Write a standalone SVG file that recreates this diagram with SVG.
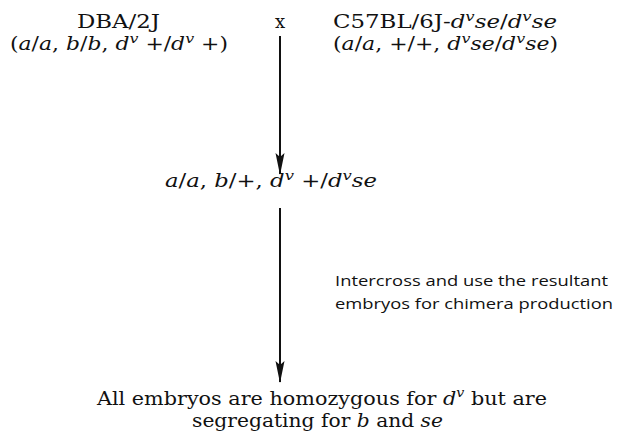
<svg xmlns="http://www.w3.org/2000/svg" width="620" height="432" viewBox="0 0 620 432">
<style>
.s{font-family:"DejaVu Serif","Liberation Serif",serif;fill:#111;}
.t{font-size:18px;}
.b{font-size:19px;}
.i{font-style:italic;}
.sup{font-size:13px;font-style:italic;}
.n{font-family:"Open Sans","DejaVu Sans",sans-serif;font-size:15px;fill:#111;}
.c{stroke:#111;stroke-width:2;fill:none;}
</style>
<defs>
<marker id="ah" markerUnits="userSpaceOnUse" markerWidth="22" markerHeight="10" refX="21" refY="5" orient="auto" viewBox="0 0 22 10">
<path d="M0,0.5 L4,5 L0,9.5 L22,5 Z" fill="#111"/>
</marker>
</defs>
<rect width="620" height="432" fill="#fff"/>
<g id="connectors">
<line class="c" x1="280" y1="36" x2="280" y2="174" marker-end="url(#ah)"/>
<line class="c" x1="280" y1="208" x2="280" y2="382" marker-end="url(#ah)"/>
</g>
<g id="parent-dba">
<text class="s t" x="77" y="28" textLength="83" lengthAdjust="spacingAndGlyphs">DBA/2J</text>
<text class="s t" x="10" y="50" textLength="218" lengthAdjust="spacingAndGlyphs">(<tspan class="i">a</tspan>/<tspan class="i">a</tspan>, <tspan class="i">b</tspan>/<tspan class="i">b</tspan>, <tspan class="i">d</tspan><tspan class="sup" dy="-7">v</tspan><tspan dy="7"> +/</tspan><tspan class="i">d</tspan><tspan class="sup" dy="-7">v</tspan><tspan dy="7"> +)</tspan></text>
</g>
<g id="cross">
<text class="s t" x="280" y="28" text-anchor="middle">x</text>
</g>
<g id="parent-c57">
<text class="s t" x="333" y="28" textLength="224" lengthAdjust="spacingAndGlyphs">C57BL/6J-<tspan class="i">d</tspan><tspan class="sup" dy="-7">v</tspan><tspan class="i" dy="7">se</tspan>/<tspan class="i">d</tspan><tspan class="sup" dy="-7">v</tspan><tspan class="i" dy="7">se</tspan></text>
<text class="s t" x="333" y="50" textLength="225" lengthAdjust="spacingAndGlyphs">(<tspan class="i">a</tspan>/<tspan class="i">a</tspan>, +/+, <tspan class="i">d</tspan><tspan class="sup" dy="-7">v</tspan><tspan class="i" dy="7">se</tspan>/<tspan class="i">d</tspan><tspan class="sup" dy="-7">v</tspan><tspan class="i" dy="7">se</tspan>)</text>
</g>
<g id="f1">
<text class="s t" x="165" y="187" textLength="212" lengthAdjust="spacingAndGlyphs"><tspan class="i">a</tspan>/<tspan class="i">a</tspan>, <tspan class="i">b</tspan>/+, <tspan class="i">d</tspan><tspan class="sup" dy="-7">v</tspan><tspan dy="7"> +/</tspan><tspan class="i">d</tspan><tspan class="sup" dy="-7">v</tspan><tspan class="i" dy="7">se</tspan></text>
</g>
<g id="note">
<text class="n" x="335" y="286" textLength="273" lengthAdjust="spacingAndGlyphs">Intercross and use the resultant</text>
<text class="n" x="335" y="309" textLength="278" lengthAdjust="spacingAndGlyphs">embryos for chimera production</text>
</g>
<g id="result">
<text class="s b" x="97" y="405" textLength="450" lengthAdjust="spacingAndGlyphs">All embryos are homozygous for <tspan class="i">d</tspan><tspan class="sup" dy="-8">v</tspan><tspan dy="8"> but are</tspan></text>
<text class="s b" x="192" y="427" textLength="251" lengthAdjust="spacingAndGlyphs">segregating for <tspan class="i">b</tspan> and <tspan class="i">se</tspan></text>
</g>
</svg>
